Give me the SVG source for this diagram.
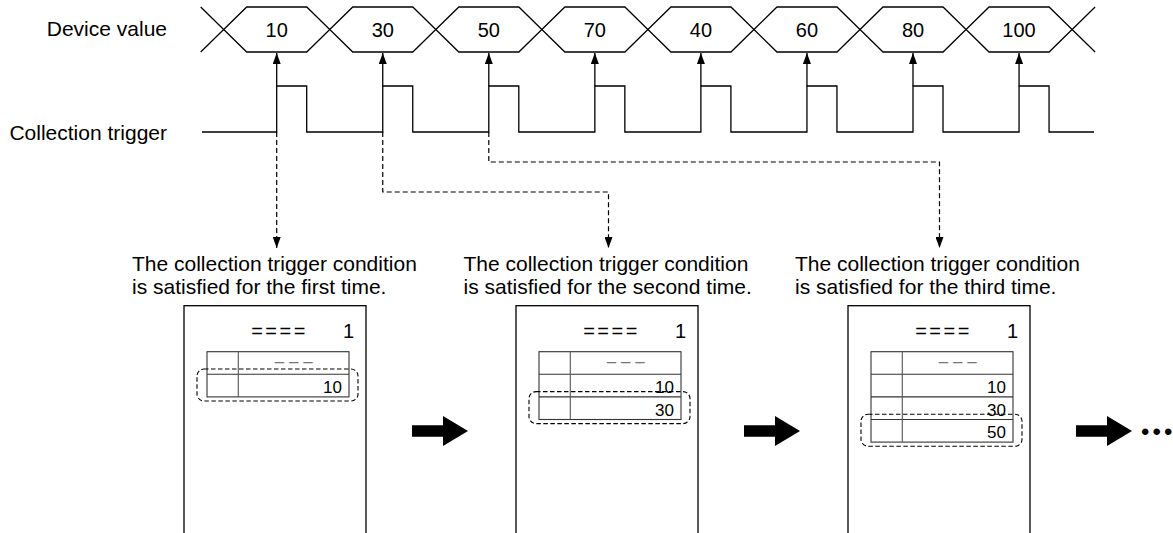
<svg xmlns="http://www.w3.org/2000/svg" width="1173" height="533" viewBox="0 0 1173 533">
<style>
text{font-family:"Liberation Sans",Arial,Helvetica,sans-serif;fill:#000}
.lbl{font-size:21px}
.hv{font-size:20px;text-anchor:middle}
.wave{fill:none;stroke:#000;stroke-width:1.3}
.hex{fill:#fff;stroke:#000;stroke-width:1.3}
.up{stroke:#000;stroke-width:1.3;fill:none}
.dash{stroke:#000;stroke-width:1.2;fill:none;stroke-dasharray:5 3}
.box{fill:#fff;stroke:#000;stroke-width:1.3}
.tbl{fill:none;stroke:#333;stroke-width:1.1}
.col{stroke:#555;stroke-width:1.1}
.sel{fill:none;stroke:#000;stroke-width:1.1;stroke-dasharray:4.5 2.5}
.eq{font-size:20px;text-anchor:middle;letter-spacing:2.5px}
.pg{font-size:20px;text-anchor:end}
.hd{font-size:17px;text-anchor:middle;fill:#777}
.num{font-size:17px;text-anchor:end}
.big{fill:#000}
.dots{font-size:24px}
</style>
<defs>
<marker id="ah" markerUnits="userSpaceOnUse" markerWidth="11" markerHeight="8" refX="11" refY="4" orient="auto">
<path d="M0,0 L11,4 L0,8 z" fill="#000"/>
</marker>
</defs>

<g id="labels">
<text class="lbl" x="167" y="36" text-anchor="end">Device value</text>
<text class="lbl" x="167" y="140" text-anchor="end">Collection trigger</text>
</g>

<g id="device-value">
<path class="wave" d="M200.7,7 L223.7,29.5 L200.7,52"/>
<path class="wave" d="M1095.1,7 L1072.1,29.5 L1095.1,52"/>
<polygon class="hex" points="223.7,29.5 246.7,7 306.75,7 329.75,29.5 306.75,52 246.7,52"/>
<polygon class="hex" points="329.75,29.5 352.75,7 412.8,7 435.8,29.5 412.8,52 352.75,52"/>
<polygon class="hex" points="435.8,29.5 458.8,7 518.85,7 541.85,29.5 518.85,52 458.8,52"/>
<polygon class="hex" points="541.85,29.5 564.85,7 624.9,7 647.9,29.5 624.9,52 564.85,52"/>
<polygon class="hex" points="647.9,29.5 670.9,7 730.95,7 753.95,29.5 730.95,52 670.9,52"/>
<polygon class="hex" points="753.95,29.5 776.95,7 837,7 860,29.5 837,52 776.95,52"/>
<polygon class="hex" points="860,29.5 883,7 943.05,7 966.05,29.5 943.05,52 883,52"/>
<polygon class="hex" points="966.05,29.5 989.05,7 1049.1,7 1072.1,29.5 1049.1,52 989.05,52"/>
<text class="hv" x="276.7" y="36.5">10</text>
<text class="hv" x="382.75" y="36.5">30</text>
<text class="hv" x="488.8" y="36.5">50</text>
<text class="hv" x="594.85" y="36.5">70</text>
<text class="hv" x="700.9" y="36.5">40</text>
<text class="hv" x="806.95" y="36.5">60</text>
<text class="hv" x="913" y="36.5">80</text>
<text class="hv" x="1019.05" y="36.5">100</text>
</g>

<g id="collection-trigger">
<path class="wave" d="M202,132 H276.7 V86 H306.7 V132 H382.75 V86 H412.75 V132 H488.8 V86 H518.8 V132 H594.85 V86 H624.85 V132 H700.9 V86 H730.9 V132 H806.95 V86 H836.95 V132 H913 V86 H943 V132 H1019.05 V86 H1049.05 V132 H1094"/>
</g>

<g id="connectors">
<line class="up" x1="276.7" y1="86" x2="276.7" y2="53" marker-end="url(#ah)"/>
<line class="up" x1="382.75" y1="86" x2="382.75" y2="53" marker-end="url(#ah)"/>
<line class="up" x1="488.8" y1="86" x2="488.8" y2="53" marker-end="url(#ah)"/>
<line class="up" x1="594.85" y1="86" x2="594.85" y2="53" marker-end="url(#ah)"/>
<line class="up" x1="700.9" y1="86" x2="700.9" y2="53" marker-end="url(#ah)"/>
<line class="up" x1="806.95" y1="86" x2="806.95" y2="53" marker-end="url(#ah)"/>
<line class="up" x1="913" y1="86" x2="913" y2="53" marker-end="url(#ah)"/>
<line class="up" x1="1019.05" y1="86" x2="1019.05" y2="53" marker-end="url(#ah)"/>
<path class="dash" d="M276.7,132 V248" marker-end="url(#ah)"/>
<path class="dash" d="M382.75,132 V192 H608.5 V248" marker-end="url(#ah)"/>
<path class="dash" d="M488.8,132 V162 H939.5 V248" marker-end="url(#ah)"/>
</g>

<g id="caption-1">
<text class="lbl" x="132" y="271">The collection trigger condition</text>
<text class="lbl" x="132" y="294">is satisfied for the first time.</text>
</g>
<g id="caption-2">
<text class="lbl" x="463.5" y="271">The collection trigger condition</text>
<text class="lbl" x="463.5" y="294">is satisfied for the second time.</text>
</g>
<g id="caption-3">
<text class="lbl" x="795" y="271">The collection trigger condition</text>
<text class="lbl" x="795" y="294">is satisfied for the third time.</text>
</g>

<g id="screen-1">
<rect class="box" x="184" y="305.7" width="182" height="240"/>
<text class="eq" x="279.5" y="338">====</text>
<text class="pg" x="354" y="338">1</text>
<rect class="tbl" x="207" y="351.7" width="142" height="45.2"/>
<line class="tbl" x1="207" y1="374.3" x2="349" y2="374.3"/>
<line class="col" x1="238.3" y1="351.7" x2="238.3" y2="396.9"/>
<text class="hd" x="293.7" y="367">– – –</text>
<text class="num" x="342" y="392.9">10</text>
<rect class="sel" x="197" y="369" width="161" height="32" rx="7"/>
</g>

<g id="screen-2">
<rect class="box" x="516" y="305.7" width="182" height="240"/>
<text class="eq" x="611.5" y="338">====</text>
<text class="pg" x="686" y="338">1</text>
<rect class="tbl" x="539" y="351.7" width="142" height="67.8"/>
<line class="tbl" x1="539" y1="374.3" x2="681" y2="374.3"/>
<line class="tbl" x1="539" y1="396.9" x2="681" y2="396.9"/>
<line class="col" x1="570.3" y1="351.7" x2="570.3" y2="419.5"/>
<text class="hd" x="625.7" y="367">– – –</text>
<text class="num" x="674" y="392.9">10</text>
<text class="num" x="674" y="415.5">30</text>
<rect class="sel" x="529" y="391.6" width="161" height="32" rx="7"/>
</g>

<g id="screen-3">
<rect class="box" x="848" y="305.7" width="182" height="240"/>
<text class="eq" x="943.5" y="338">====</text>
<text class="pg" x="1018" y="338">1</text>
<rect class="tbl" x="871" y="351.7" width="142" height="90.4"/>
<line class="tbl" x1="871" y1="374.3" x2="1013" y2="374.3"/>
<line class="tbl" x1="871" y1="396.9" x2="1013" y2="396.9"/>
<line class="tbl" x1="871" y1="419.5" x2="1013" y2="419.5"/>
<line class="col" x1="902.3" y1="351.7" x2="902.3" y2="442.1"/>
<text class="hd" x="957.7" y="367">– – –</text>
<text class="num" x="1006" y="392.9">10</text>
<text class="num" x="1006" y="415.5">30</text>
<text class="num" x="1006" y="438.1">50</text>
<rect class="sel" x="861" y="414.2" width="161" height="32" rx="7"/>
</g>

<g id="flow-arrows">
<polygon class="big" points="412,425.2 443,425.2 443,416 468,431 443,446 443,436.8 412,436.8"/>
<polygon class="big" points="744,425.2 775,425.2 775,416 800,431 775,446 775,436.8 744,436.8"/>
<polygon class="big" points="1076,425.2 1107,425.2 1107,416 1132,431 1107,446 1107,436.8 1076,436.8"/>
<text class="dots" x="1141 1152.5 1164" y="440">•••</text>
</g>
</svg>
